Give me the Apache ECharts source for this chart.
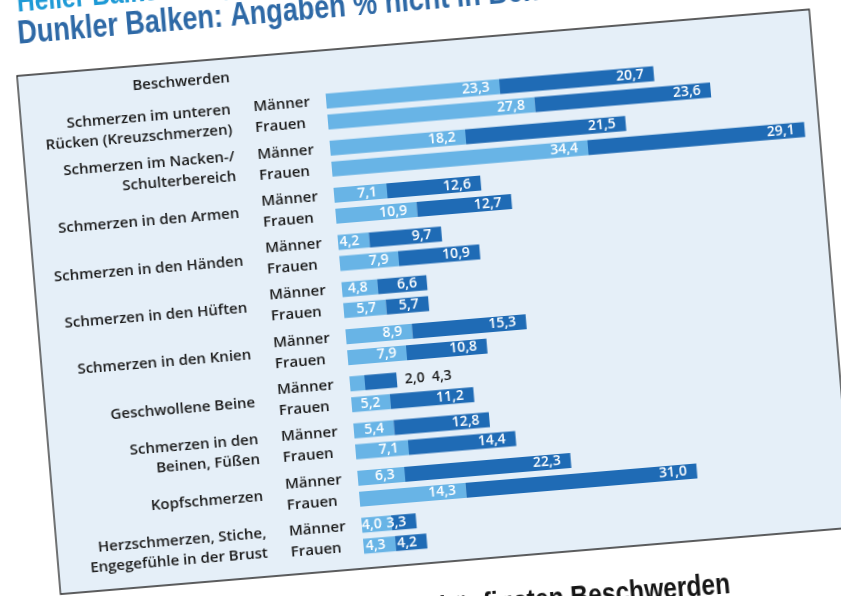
<!DOCTYPE html>
<html><head><meta charset="utf-8">
<script src="https://cdn.jsdelivr.net/npm/echarts@6/dist/echarts.min.js"></script>
<style>
html,body{margin:0;padding:0;width:841px;height:596px;overflow:hidden;background:#fff;}
#wrap{position:absolute;left:-60px;top:-80px;width:961px;height:756px;transform-origin:480px 378px;transform:rotate(-4.8deg);}
</style></head><body>
<div id="wrap"></div>
<script>
const categories = ['Schmerzen im unteren\nRücken (Kreuzschmerzen)', 'Schmerzen im Nacken-/\nSchulterbereich', 'Schmerzen in den Armen', 'Schmerzen in den Händen', 'Schmerzen in den Hüften', 'Schmerzen in den Knien', 'Geschwollene Beine', 'Schmerzen in den\nBeinen, Füßen', 'Kopfschmerzen', 'Herzschmerzen, Stiche,\nEngegefühle in der Brust'];
const maennerInBehandlung = [23.3, 18.2, 7.1, 4.2, 4.8, 8.9, 2.0, 5.4, 6.3, 4.0];
const maennerNichtInBehandlung = [20.7, 21.5, 12.6, 9.7, 6.6, 15.3, 4.3, 12.8, 22.3, 3.3];
const frauenInBehandlung = [27.8, 34.4, 10.9, 7.9, 5.7, 7.9, 5.2, 7.1, 14.3, 4.3];
const frauenNichtInBehandlung = [23.6, 29.1, 12.7, 10.9, 5.7, 10.8, 11.2, 14.4, 31.0, 4.2];
const genderLabels = ['Männer', 'Frauen'];
const headerText = 'Beschwerden';
const titleLight = 'Heller Balken: Angaben % in Behandlung';
const titleDark = 'Dunkler Balken: Angaben % nicht in Behandlung';
const footerText = 'häufigsten Beschwerden';

const LIGHT = '#68b4e6';
const DARK = '#1f6bb5';
const SANS = '"Liberation Sans", Arial, sans-serif';
const fmt = v => v.toFixed(1).replace('.', ',');
const valueFont = {fontFamily: 'Open Sans', fontWeight: 600, fontSize: 14, color: '#fff'};

function lightData(arr) {
  return arr.map(v => v < 3 ? {value: v, label: {show: false}} : v);
}
function darkData(lightArr, arr) {
  return arr.map((v, i) => lightArr[i] < 3 ? {
    value: v,
    label: {position: 'right', distance: 8, color: '#1a1a1a', formatter: fmt(lightArr[i]) + '  ' + fmt(v)}
  } : v);
}
const baseLabel = Object.assign({show: true, position: 'insideRight', distance: 10, formatter: p => fmt(p.value)}, valueFont);

const chart = echarts.init(document.getElementById('wrap'), null, {renderer: 'canvas'});
chart.setOption({
  animation: false,
  backgroundColor: 'transparent',
  grid: {left: 403, top: 160.85, width: 485.6, height: 473, containLabel: false},
  xAxis: {type: 'value', min: 0, max: 65, show: false},
  yAxis: [{
    type: 'category', data: categories, inverse: true,
    axisLine: {show: false}, axisTick: {show: false}, splitLine: {show: false},
    axisLabel: {interval: 0, hideOverlap: false, margin: 96, align: 'right', fontFamily: 'Open Sans', fontWeight: 600, fontSize: 15, color: '#1a1a1a', lineHeight: 20, padding: [16, 0, 0, 0]}
  }, {
    type: 'category', data: categories, inverse: true, position: 'left',
    axisLine: {show: false}, axisTick: {show: false}, splitLine: {show: false},
    axisLabel: {interval: 0, hideOverlap: false, margin: 73, align: 'left', formatter: () => genderLabels.join('\n'), fontFamily: 'Open Sans', fontWeight: 600, fontSize: 15, color: '#1a1a1a', lineHeight: 21, padding: [3, 0, 0, 0]}
  }],
  graphic: [
    {type: 'rect', z: -10, silent: true, shape: {x: 97, y: 123, width: 795, height: 520}, style: {fill: '#e5eff8', stroke: '#2a2a2a', lineWidth: 1.3}},
    {type: 'text', x: 260, y: 143, style: {text: headerText, font: '600 15px "Open Sans"', fill: '#1a1a1a', align: 'center', verticalAlign: 'middle', textAlign: 'center', textVerticalAlign: 'middle'}},
    {type: 'text', x: 103, y: 51, scaleX: 0.82, style: {text: titleLight, font: 'bold 30px ' + SANS, fill: '#1e9ad6', align: 'left', verticalAlign: 'middle', textAlign: 'left', textVerticalAlign: 'middle'}},
    {type: 'text', x: 101, y: 82, scaleX: 0.82, style: {text: titleDark, font: 'bold 33px ' + SANS, fill: '#2e69a6', align: 'left', verticalAlign: 'middle', textAlign: 'left', textVerticalAlign: 'middle'}},
    {type: 'text', x: 765, y: 690, scaleX: 0.82, style: {text: footerText, font: 'bold 30px ' + SANS, fill: '#151515', align: 'right', verticalAlign: 'middle', textAlign: 'right', textVerticalAlign: 'middle'}}
  ],
  series: [
    {name: 'Männer in Behandlung', type: 'bar', stack: 'm', barWidth: 15, barGap: '40%', itemStyle: {color: LIGHT}, label: baseLabel, data: lightData(maennerInBehandlung)},
    {name: 'Männer nicht in Behandlung', type: 'bar', stack: 'm', barWidth: 15, barGap: '40%', itemStyle: {color: DARK}, label: baseLabel, data: darkData(maennerInBehandlung, maennerNichtInBehandlung)},
    {name: 'Frauen in Behandlung', type: 'bar', stack: 'f', barWidth: 15, barGap: '40%', itemStyle: {color: LIGHT}, label: baseLabel, data: lightData(frauenInBehandlung)},
    {name: 'Frauen nicht in Behandlung', type: 'bar', stack: 'f', barWidth: 15, barGap: '40%', itemStyle: {color: DARK}, label: baseLabel, data: darkData(frauenInBehandlung, frauenNichtInBehandlung)}
  ]
});
</script>
</body></html>
